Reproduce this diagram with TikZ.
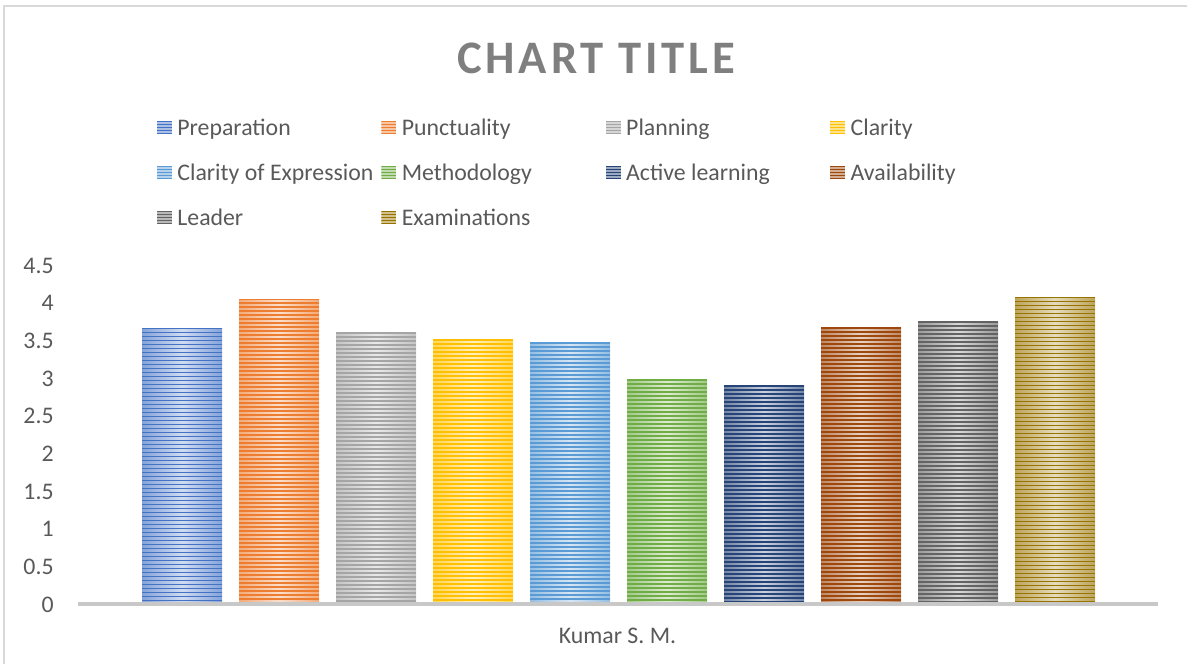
\documentclass[tikz,border=0pt]{standalone}
\usepackage{fontspec}
\setmainfont{Carlito}
\definecolor{prep}{HTML}{4472C4}
\definecolor{punct}{HTML}{ED7D31}
\definecolor{plan}{HTML}{A5A5A5}
\definecolor{clar}{HTML}{FFC000}
\definecolor{expr}{HTML}{5B9BD5}
\definecolor{meth}{HTML}{70AD47}
\definecolor{active}{HTML}{264478}
\definecolor{avail}{HTML}{9E480E}
\definecolor{lead}{HTML}{636363}
\definecolor{exam}{HTML}{997300}
\definecolor{textgray}{HTML}{595959}
\definecolor{titlegray}{HTML}{7F7F7F}
\definecolor{framegray}{HTML}{D9D9D9}
\definecolor{axisgray}{HTML}{C8C8C8}
\tikzset{
  axistext/.style = {text=textgray, inner sep=0pt, font=\fontsize{11.9}{14}\selectfont},
  legtext/.style = {axistext, anchor=base west},
  charttitle/.style = {text=titlegray, inner sep=0pt, anchor=base,
    font=\fontsize{23.3}{28}\selectfont\bfseries\addfontfeatures{LetterSpace=8.4}}
}

\begin{document}
\begin{tikzpicture}[x=0.5pt,y=-0.5pt]
  \useasboundingbox (0,0) rectangle (1187,664);
  \draw[framegray, line width=1pt] (4,664) -- (4,6) -- (1187,6);
  \node[charttitle] (title) at (596,73) {CHART TITLE};
  % bars and legend entries
  \foreach \lab/\col/\val [count=\i from 0] in {Preparation/prep/3.66, Punctuality/punct/4.05,
      Planning/plan/3.60, Clarity/clar/3.51, Clarity of Expression/expr/3.47,
      Methodology/meth/2.98, Active learning/active/2.90, Availability/avail/3.67,
      Leader/lead/3.75, Examinations/exam/4.07} {
    \pgfmathsetmacro{\xl}{142+97*\i}
    \pgfmathsetmacro{\h}{75.3*\val}
    \begin{scope}
      \clip (\xl,604) rectangle ++(80,-\h);
      \shade[left color=\col!65, right color=\col!65, middle color=\col!25]
        (\xl,604) rectangle ++(80,-\h);
      \foreach \s in {0,4,...,320}
        \draw[\col, line width=0.9pt] (\xl,604-\h+\s) -- ++(80,0);
    \end{scope}
    \pgfmathtruncatemacro{\row}{\i/4}
    \pgfmathsetmacro{\lx}{157+224.4*mod(\i,4)}
    \pgfmathsetmacro{\ly}{127.5+45*\row}
    \begin{scope}
      \clip (\lx,\ly-6.5) rectangle ++(15,13);
      \fill[\col!45] (\lx,\ly-6.5) rectangle ++(15,13);
      \foreach \s in {0,3,...,12}
        \draw[\col, line width=0.8pt] (\lx,\ly-6+\s) -- ++(15,0);
    \end{scope}
    \node[legtext] (lg\i) at (\lx+20,\ly+8) {\lab};
  }
  % value axis
  \foreach \v [count=\k] in {0,0.5,1,1.5,2,2.5,3,3.5,4,4.5}
    \node[axistext, anchor=base east] (yl\k) at (54,604-75.3*\v+8) {\v};
  \coordinate (axl) at (78,604);
  \coordinate (axr) at (1158,604);
  \draw[axisgray, line width=2pt] (axl) -- (axr);
  \node[axistext, anchor=base] (cat) at (617.5,643) {Kumar S. M.};
\end{tikzpicture}
\end{document}
